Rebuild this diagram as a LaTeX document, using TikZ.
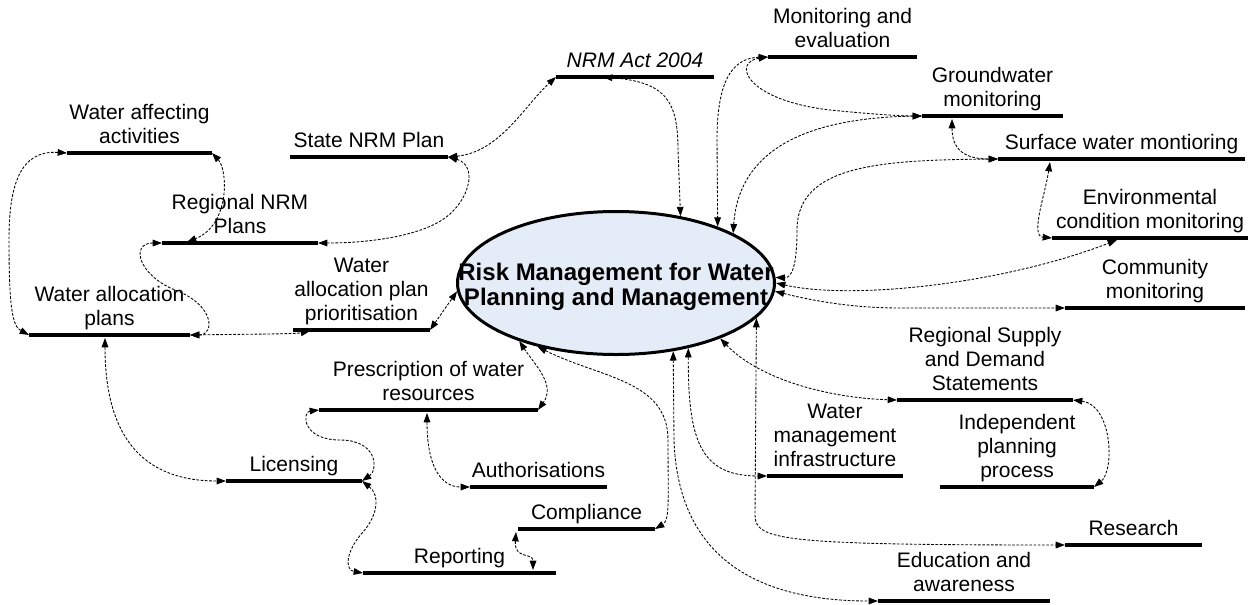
\documentclass[tikz,border=0pt]{standalone}
\usepackage{fontspec}
\setmainfont{Liberation Sans}
\usetikzlibrary{arrows.meta,shapes.geometric,calc}
\definecolor{ellfill}{RGB}{228,236,248}
\newcommand\bnode[5]{\node[bnode,minimum width={(#3-#2)*0.75pt}] (#1) at ({(#2+#3)/2},#4) {#5};}
\begin{document}
\begin{tikzpicture}[x=0.75pt,y=-0.75pt,
  barline/.style={line width=3.6pt,black},
  bnode/.style={anchor=south,inner xsep=0pt,inner ysep=7.5pt,outer sep=0pt,
    text depth=0pt,align=center,font=\fontsize{15.75}{18}\selectfont,
    append after command={(\tikzlastnode.south west) edge[barline] (\tikzlastnode.south east)}},
  ell/.style={ellipse,draw,line width=2.25pt,fill=ellfill,minimum width=237.75pt,
    minimum height=107.25pt,inner sep=0pt},
  elltext/.style={align=center,inner sep=0pt,font=\bfseries\fontsize{18}{19}\selectfont},
  conn/.style={draw,line width=0.65pt,dash pattern=on 2pt off 1.2pt,
    >={Triangle[length=7pt,width=5pt]},<->}]
\useasboundingbox (0,0) rectangle (1251,604);
\node[ell] (ell) at (616,283) {};
\node[elltext] (elltxt) at (616,287) {Risk Management for Water\\Planning and Management};
\bnode{waa}{67}{212}{153}{Water affecting\\activities}
\bnode{snp}{290}{448}{157}{State NRM Plan}
\bnode{nrm}{556}{714}{77}{\itshape NRM Act 2004}
\bnode{me}{768}{917}{57}{Monitoring and\\evaluation}
\bnode{gw}{922}{1063}{116}{Groundwater\\monitoring}
\bnode{sw}{998}{1245}{159}{Surface water montioring}
\bnode{env}{1052}{1248}{238}{Environmental\\condition monitoring}
\bnode{com}{1065}{1245}{308}{Community\\monitoring}
\bnode{rnp}{162}{318}{243}{Regional NRM\\Plans}
\bnode{wap}{29}{190}{335}{Water allocation\\plans}
\bnode{prio}{293}{430}{330}{Water\\allocation plan\\prioritisation}
\bnode{pres}{319}{538}{410}{Prescription of water\\resources}
\bnode{lic}{226}{362}{481}{Licensing}
\bnode{aut}{470}{607}{487}{Authorisations}
\bnode{comp}{518}{655}{529}{Compliance}
\bnode{rep}{363}{556}{573}{Reporting}
\bnode{wmi}{767}{903}{476}{Water\\management\\infrastructure}
\bnode{rsds}{897}{1073}{400}{Regional Supply\\and Demand\\Statements}
\bnode{ipp}{940}{1094}{487}{Independent\\planning\\process}
\bnode{res}{1065}{1202}{545}{Research}
\bnode{edu}{878}{1050}{601}{Education and\\awareness}
% connectors
\draw[conn] (waa.south west) .. controls (20,150) and (9,185) .. (9,240) .. controls (9,305) and (12,326) .. (wap.south west);
\draw[conn] (waa.south east) .. controls (228,170) and (230,225) .. ($(rnp.south west)+(25,-1)$);
\draw[conn] (rnp.south west) .. controls (130,243) and (138,275) .. (175,290) .. controls (215,305) and (215,335) .. (wap.south east);
\draw[conn] (wap.south east) .. controls (260,334) and (295,334) .. ($(prio.south west)+(17,1)$);
\draw[conn] (prio.south east) -- (ell.183);
\draw[conn] (snp.south east) .. controls (500,152) and (525,105) .. (nrm.south west);
\draw[conn] (snp.south east) .. controls (478,165) and (470,200) .. (445,218) .. controls (420,236) and (370,243) .. (rnp.south east);
\draw[conn] ($(nrm.south west)+(47,0)$) .. controls (665,82) and (678,100) .. (678,150) -- (ell.46.3);
\draw[conn] (me.south west) .. controls (730,58) and (717,85) .. (717,140) -- (ell.29.3);
\draw[conn] (me.south west) .. controls (732,62) and (745,100) .. (830,110) .. controls (870,114) and (900,116) .. (gw.south west);
\draw[conn] (ell.23.1) .. controls (738,160) and (790,118) .. (gw.south west);
\draw[conn] ($(gw.south west)+(30,3)$) .. controls (952,150) and (965,159) .. (sw.south west);
\draw[conn] (sw.south west) .. controls (880,160) and (797,165) .. (797,230) .. controls (797,265) and (792,278) .. (ell.2);
\draw[conn] ($(sw.south west)+(52,3)$) .. controls (1045,195) and (1030,236) .. (env.south west);
\draw[conn] (ell.0) .. controls (850,300) and (1000,285) .. ($(env.south west)+(65,2)$);
\draw[conn] (ell.-3) .. controls (810,300) and (850,308) .. (900,308) -- (com.south west);
\draw[conn] (ell.-14.6) -- (755,515) .. controls (755,540) and (780,545) .. (res.south west);
\draw[conn] (ell.-28.1) .. controls (760,380) and (830,398) .. (rsds.south west);
\draw[conn] (rsds.south east) .. controls (1112,405) and (1115,470) .. (ipp.south east);
\draw[conn] (ell.-42.6) .. controls (688,440) and (700,476) .. (wmi.south west);
\draw[conn] (ell.-50.7) -- (674,440) .. controls (678,560) and (760,601) .. (edu.south west);
\draw[conn] (ell.219.2) .. controls (600,378) and (668,380) .. (668,440) .. controls (668,500) and (670,520) .. (comp.south east);
\draw[conn] (ell.211.3) .. controls (535,365) and (556,385) .. (pres.south east);
\draw[conn] (pres.south west) .. controls (302,412) and (302,440) .. (340,440) .. controls (378,440) and (378,470) .. (lic.south east);
\draw[conn] (lic.south east) .. controls (380,495) and (378,515) .. (363,532) .. controls (345,552) and (345,570) .. (rep.south west);
\draw[conn] ($(wap.south west)+(76,3)$) .. controls (105,445) and (150,481) .. (lic.south west);
\draw[conn] ($(pres.south west)+(108,3)$) .. controls (427,465) and (440,487) .. (aut.south west);
\draw[conn] ($(comp.south west)+(-2,3)$) .. controls (514,560) and (533,552) .. ($(rep.south west)+(170,-3)$);
\end{tikzpicture}
\end{document}
